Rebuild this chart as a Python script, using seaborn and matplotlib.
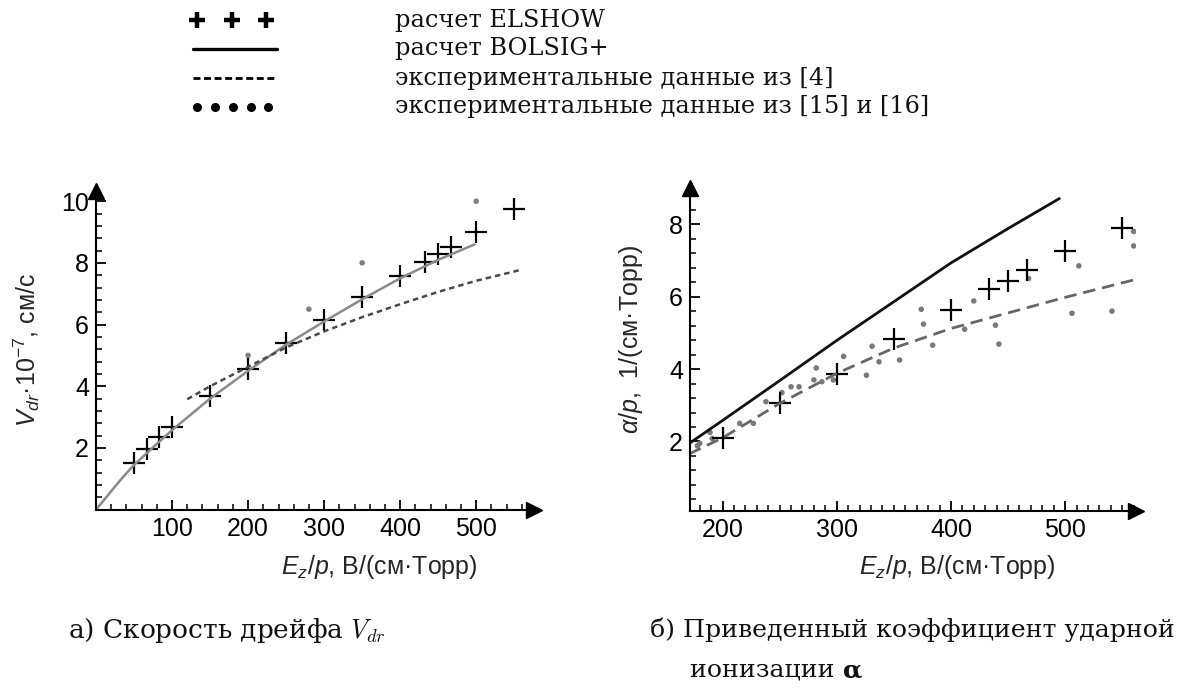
import seaborn as sns
import matplotlib.pyplot as plt
from matplotlib.ticker import MultipleLocator, FixedLocator


sns.set_theme(style="ticks")
plt.rcParams['font.family'] = ['Liberation Sans', 'DejaVu Sans']
plt.rcParams['mathtext.fontset'] = 'custom'
plt.rcParams['mathtext.rm'] = 'Liberation Sans'
plt.rcParams['mathtext.it'] = 'Liberation Sans:italic'
plt.rcParams['mathtext.bf'] = 'Liberation Sans:bold'

# panel a: drift velocity
elshow_e_a = [50, 67, 83, 100, 150, 200, 250, 300, 350, 400, 433, 450, 467, 500, 550]
elshow_v = [1.5, 1.96, 2.37, 2.69, 3.70, 4.55, 5.39, 6.15, 6.88, 7.57, 8.04, 8.29, 8.53, 9.01, 9.74]
bolsig_e_a = [0, 10, 20, 30, 40, 50, 75, 100, 150, 200, 250, 300, 350, 400, 450, 498]
bolsig_v = [0, 0.3, 0.6, 0.9, 1.18, 1.45, 2.02, 2.58, 3.6, 4.5, 5.35, 6.1, 6.82, 7.5, 8.1, 8.6]
exp4_e_a = [120, 150, 200, 250, 300, 350, 400, 450, 500, 558]
exp4_v = [3.58, 4.0, 4.63, 5.26, 5.78, 6.24, 6.66, 7.06, 7.42, 7.77]
exp15_e_a = [200, 280, 350, 500]
exp15_v = [5.0, 6.5, 8.0, 10.0]

# panel b: reduced ionization coefficient
elshow_e_b = [200, 250, 300, 350, 400, 433, 450, 467, 500, 550]
elshow_alpha = [2.1, 3.05, 3.86, 4.82, 5.63, 6.2, 6.44, 6.73, 7.26, 7.9]
bolsig_e_b = [171, 200, 250, 300, 350, 400, 450, 495]
bolsig_alpha = [1.95, 2.58, 3.68, 4.79, 5.86, 6.93, 7.88, 8.71]
exp4_e_b = [171, 200, 250, 300, 350, 400, 450, 500, 560]
exp4_alpha = [1.66, 2.1, 3.05, 3.88, 4.58, 5.12, 5.55, 5.98, 6.46]
exp15_e_b = [178, 180, 189, 191, 215, 227, 238, 252, 260, 267,
             280, 282, 287, 297, 306, 326, 331, 337, 355, 374,
             376, 384, 412, 420, 439, 442, 468, 506, 512, 541,
             560, 560]
exp15_alpha = [1.88, 1.95, 2.25, 2.08, 2.5, 2.5, 3.1, 3.35, 3.51, 3.51,
               3.7, 4.03, 3.65, 3.7, 4.35, 3.83, 4.63, 4.2, 4.25, 5.65,
               5.24, 4.66, 5.1, 5.88, 5.21, 4.69, 6.5, 5.54, 6.85, 5.6,
               7.4, 7.8]

legend_labels = ["расчет ELSHOW", "расчет BOLSIG+",
                 "экспериментальные данные из [4]",
                 "экспериментальные данные из [15] и [16]"]

W, H = 1183, 690
fig = plt.figure(figsize=(W / 100, H / 100), dpi=100)

ax1 = fig.add_axes([96 / W, 1 - 509.7 / H, 438 / W, 318.7 / H])
ax2 = fig.add_axes([690 / W, 1 - 511 / H, 445.7 / W, 323 / H])

# panel a
sns.lineplot(x=bolsig_e_a, y=bolsig_v, ax=ax1, color="#8a8a8a", linewidth=1.8)
sns.lineplot(x=exp4_e_a, y=exp4_v, ax=ax1, color="#4a4a4a", linewidth=1.8,
             linestyle=(0, (2.2, 1.6)))
sns.scatterplot(x=exp15_e_a, y=exp15_v, ax=ax1, color="#808080", s=16,
                edgecolor="none")
sns.scatterplot(x=elshow_e_a, y=elshow_v, ax=ax1, color="black", marker="+",
                s=260, linewidth=1.6)
ax1.set_xlim(0, 576)
ax1.set_ylim(0, 10.33)
ax1.xaxis.set_major_locator(FixedLocator([100, 200, 300, 400, 500]))
ax1.xaxis.set_minor_locator(MultipleLocator(20))
ax1.yaxis.set_major_locator(FixedLocator([2, 4, 6, 8, 10]))
ax1.yaxis.set_minor_locator(MultipleLocator(0.4))

# panel b
sns.lineplot(x=bolsig_e_b, y=bolsig_alpha, ax=ax2, color="#111111", linewidth=2.0)
sns.lineplot(x=exp4_e_b, y=exp4_alpha, ax=ax2, color="#666666", linewidth=2.0,
             linestyle=(0, (4.5, 2.5)))
sns.scatterplot(x=exp15_e_b, y=exp15_alpha, ax=ax2, color="#7a7a7a", s=16,
                edgecolor="none")
sns.scatterplot(x=elshow_e_b, y=elshow_alpha, ax=ax2, color="black", marker="+",
                s=260, linewidth=1.6)
ax2.set_xlim(171.5, 561.8)
ax2.set_ylim(0.08, 9.0)
ax2.xaxis.set_major_locator(FixedLocator([200, 300, 400, 500]))
ax2.xaxis.set_minor_locator(MultipleLocator(10))
ax2.yaxis.set_major_locator(FixedLocator([2, 4, 6, 8]))
ax2.yaxis.set_minor_locator(MultipleLocator(0.4))

for ax in (ax1, ax2):
    sns.despine(ax=ax)
    for side in ("left", "bottom"):
        ax.spines[side].set_linewidth(1.5)
        ax.spines[side].set_color("black")
    ax.tick_params(which="major", direction="in", length=7, width=1.3,
                   labelsize=18, pad=5, colors="black")
    ax.tick_params(which="minor", direction="in", length=4, width=1.1,
                   colors="black")
    ax.plot(1, 0, ">", color="black", ms=12, transform=ax.transAxes, clip_on=False)
    ax.plot(0, 1, "^", color="black", ms=12, transform=ax.transAxes, clip_on=False)
    ax.set_facecolor("white")

ax1.set_ylabel(r"$V_{dr}$·10$^{-7}$, см/с", fontsize=18)
ax1.yaxis.set_label_coords(-0.123, 0.5)
ax1.set_xlabel(r"$E_z/p$, В/(см·Торр)", fontsize=18)
ax1.xaxis.set_label_coords(0.648, -0.136)

ax2.set_ylabel(r"$\alpha/p$,  1/(см·Торр)", fontsize=18)
ax2.yaxis.set_label_coords(-0.1, 0.53)
ax2.set_xlabel(r"$E_z/p$, В/(см·Торр)", fontsize=18)
ax2.xaxis.set_label_coords(0.6, -0.13)

# legend on top, drawn as an overlay in pixel coordinates
serif = ["DejaVu Serif"]
leg = fig.add_axes([0, 0, 1, 1], zorder=-1)
leg.set_xlim(0, W)
leg.set_ylim(H, 0)
leg.axis("off")
rows = [20, 49, 78, 107]
leg.plot([197, 232, 266], [rows[0]] * 3, "+", color="black", ms=12, mew=3.2)
leg.plot([193, 277], [rows[1]] * 2, color="black", lw=2.4)
leg.plot([193, 277], [rows[2]] * 2, color="black", lw=2.0, linestyle=(0, (2.5, 1.3)))
leg.plot([197, 215, 233, 251, 268], [rows[3]] * 5, "o", color="black", ms=5.5)
for r, lab in zip(rows, legend_labels):
    leg.text(395, r, lab, fontsize=17.3, family=serif,
             va="center", ha="left", color="#111111")

fig.text(68 / W, 1 - 630 / H, r"а) Скорость дрейфа $V_{dr}$", fontsize=19,
         family=serif, va="center", ha="left", math_fontfamily="cm", color="#111111")
fig.text(650 / W, 1 - 630 / H, "б) Приведенный коэффициент ударной", fontsize=18.2,
         family=serif, va="center", ha="left", color="#111111")
t = fig.text(690 / W, 1 - 670 / H, "ионизации ", fontsize=18.2,
             family=serif, va="center", ha="left", color="#111111")
fig.canvas.draw()
bb = t.get_window_extent()
fig.text(bb.x1 / W, 1 - 670 / H, "α", fontsize=18.2, fontweight="bold",
         family=serif, va="center", ha="left", color="#111111")

fig.savefig("out.png", dpi=100, facecolor="white")
plt.close(fig)
